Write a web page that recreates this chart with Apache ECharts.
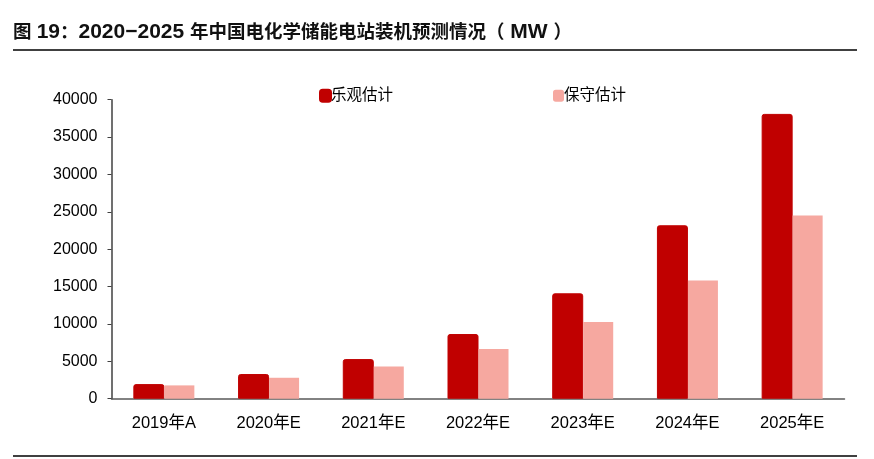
<!DOCTYPE html>
<html>
<head>
<meta charset="utf-8">
<script src="https://cdn.jsdelivr.net/npm/echarts@6/dist/echarts.min.js"></script>
<style>
  html, body { margin: 0; padding: 0; background: #fff; }
  #chart { width: 874px; height: 459px; }
</style>
</head>
<body>
<div id="chart"></div>
<script>
// title split in latin / CJK runs so each run can get its own size
const titleParts = [
  ['c', '图 '], ['l', '19'], ['c', '：'], ['l', '2020−2025 '],
  ['c', '年中国电化学储能电站装机预测情况（'], ['l', ' MW '], ['c', '）']
];
const categories = ['2019年A', '2020年E', '2021年E', '2022年E', '2023年E', '2024年E', '2025年E'];
const optimisticName = '乐观估计';
const conservativeName = '保守估计';
const optimistic = [1950, 3300, 5300, 8650, 14100, 23200, 38100];
const conservative = [1780, 2800, 4300, 6650, 10250, 15800, 24500];
const yTicks = [0, 5000, 10000, 15000, 20000, 25000, 30000, 35000, 40000];

const fontFamily = "'Liberation Sans', 'Noto Sans CJK SC', sans-serif";
const darkRed = '#c00000';
const lightRed = '#f6a8a0';

const chart = echarts.init(document.getElementById('chart'), null, { renderer: 'canvas' });

chart.setOption({
  animation: false,
  textStyle: { fontFamily: fontFamily },
  title: {
    text: titleParts.map(part => '{' + part[0] + '|' + part[1] + '}').join(''),
    left: 8,
    top: 17,
    textStyle: {
      fontFamily: fontFamily,
      rich: {
        l: { fontSize: 21, fontWeight: 'bold', color: '#111', fontFamily: fontFamily },
        c: { fontSize: 18.5, fontWeight: 'bold', color: '#111', fontFamily: fontFamily }
      }
    }
  },
  graphic: [
    { type: 'line', shape: { x1: 13, y1: 50, x2: 857, y2: 50 }, style: { stroke: '#000', lineWidth: 1.5 } },
    { type: 'line', shape: { x1: 13, y1: 456, x2: 857, y2: 456 }, style: { stroke: '#000', lineWidth: 1.5 } }
  ],
  legend: {
    left: 314,
    top: 83,
    itemWidth: 11,
    itemHeight: 12,
    itemGap: 160,
    icon: 'roundRect',
    textStyle: { fontSize: 15.5, color: '#000', padding: [0, 0, 0, -5] },
    data: [optimisticName, conservativeName]
  },
  grid: { left: 111.5, right: 29.5, top: 99.7, bottom: 60.3 },
  xAxis: {
    type: 'category',
    data: categories,
    axisLine: { lineStyle: { color: '#595959', width: 1.5 } },
    axisTick: { inside: true, length: 4, lineStyle: { color: '#404040' } },
    axisLabel: { color: '#000', fontSize: 16.5, margin: 17 }
  },
  yAxis: {
    type: 'value',
    min: yTicks[0],
    max: yTicks[yTicks.length - 1],
    interval: yTicks[1] - yTicks[0],
    axisLine: { show: true, lineStyle: { color: '#404040', width: 1.5 } },
    axisTick: { show: true, length: 4, lineStyle: { color: '#404040' } },
    splitLine: { show: false },
    axisLabel: { color: '#000', fontSize: 16, margin: 14, formatter: value => String(value) }
  },
  series: [
    {
      name: optimisticName,
      type: 'bar',
      data: optimistic,
      barWidth: 31,
      barGap: '0%',
      itemStyle: { color: darkRed, borderColor: darkRed, borderWidth: 1, borderRadius: [2, 2, 0, 0] },
      emphasis: { disabled: true }
    },
    {
      name: conservativeName,
      type: 'bar',
      data: conservative,
      barWidth: 30,
      itemStyle: { color: lightRed },
      emphasis: { disabled: true }
    }
  ]
});
</script>
</body>
</html>
